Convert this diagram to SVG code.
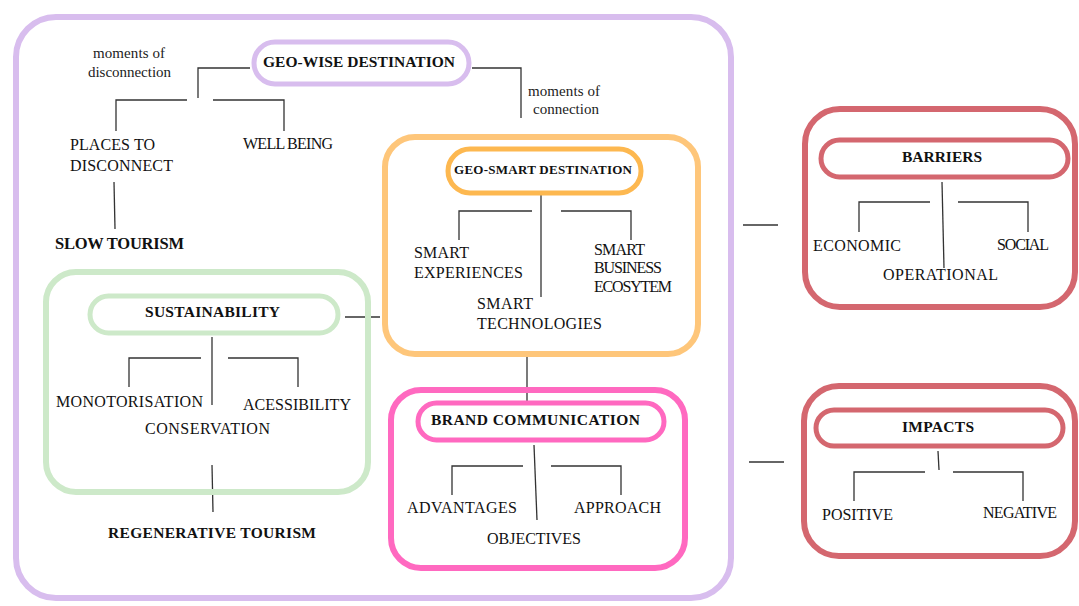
<svg xmlns="http://www.w3.org/2000/svg" width="1079" height="606" viewBox="0 0 1079 606">
<style>
text{font-family:"Liberation Serif","Times New Roman",serif;fill:#111;font-size:16px}
.b{font-weight:bold;font-size:15.5px}
.s{font-size:15px;fill:#222}
.box{fill:none;stroke-width:6}
.pill{fill:#fff;stroke-width:5}
.purple{stroke:#d8bdee}
.orange{stroke:#fec67a}
.orange2{stroke:#fdb850}
.green{stroke:#cde9c9}
.pink{stroke:#ff69c0}
.red{stroke:#d4676f}
#connectors path{fill:none;stroke:#333;stroke-width:1.3}
</style>
<rect width="1079" height="606" fill="#fff"/>
<g id="outer-frame"><rect class="box purple" x="16" y="17" width="715" height="581" rx="40" stroke-width="8"/></g>
<g id="connectors">
<path d="M250,68H198V98"/>
<path d="M116,131V100H187"/>
<path d="M213,100H284V131"/>
<path d="M114,182L115,229"/>
<path d="M472,68H521V118"/>
<path d="M541,180V297"/>
<path d="M459,240V211H532"/>
<path d="M561,211H631V240"/>
<path d="M345,317H380"/>
<path d="M212,337V405"/>
<path d="M129,387V358H201"/>
<path d="M228,358H298V387"/>
<path d="M212,465L213,512"/>
<path d="M527,354V402"/>
<path d="M534,445L537,520"/>
<path d="M452,495V466H523"/>
<path d="M551,466H621V495"/>
<path d="M743,225H778"/>
<path d="M942,182L944,268"/>
<path d="M859,232V202H930"/>
<path d="M958,202H1028V232"/>
<path d="M749,462H784"/>
<path d="M938,451L939,470"/>
<path d="M854,501V472H925"/>
<path d="M953,472H1023V501"/>
</g>
<g id="geo-wise">
<rect class="pill purple" x="254" y="42" width="215" height="42" rx="21"/>
<text class="b" x="263" y="67" textLength="192">GEO-WISE DESTINATION</text>
</g>
<g id="moments-disconnection">
<text class="s" x="93" y="58" textLength="72">moments of</text>
<text class="s" x="88" y="77" textLength="83">disconnection</text>
</g>
<g id="moments-connection">
<text class="s" x="528" y="96" textLength="72">moments of</text>
<text class="s" x="533" y="114" textLength="66">connection</text>
</g>
<g id="places">
<text x="70" y="150" textLength="85">PLACES TO</text>
<text x="70" y="171" textLength="103">DISCONNECT</text>
</g>
<g id="wellbeing"><text x="243" y="149" textLength="90">WELL BEING</text></g>
<g id="slow-tourism"><text class="b" x="55" y="249" style="font-size:16.5px" textLength="129">SLOW TOURISM</text></g>
<g id="geo-smart">
<rect class="box orange" x="385" y="137" width="313" height="217" rx="30"/>
<rect class="pill orange2" x="448" y="149" width="193" height="44" rx="22"/>
<text class="b" x="454" y="174" style="font-size:13px" textLength="178">GEO-SMART DESTINATION</text>
</g>
<g id="smart-exp">
<text x="414" y="258" textLength="55">SMART</text>
<text x="414" y="278" textLength="109">EXPERIENCES</text>
</g>
<g id="smart-biz">
<text x="594" y="255" textLength="51">SMART</text>
<text x="594" y="273" textLength="68">BUSINESS</text>
<text x="594" y="292" textLength="78">ECOSYTEM</text>
</g>
<g id="smart-tech">
<text x="477" y="309" textLength="56">SMART</text>
<text x="477" y="329" textLength="125">TECHNOLOGIES</text>
</g>
<g id="sustainability">
<rect class="box green" x="46" y="272" width="322" height="220" rx="30"/>
<rect class="pill green" x="90" y="296" width="248" height="37" rx="18.5"/>
<text class="b" x="145" y="317" textLength="135">SUSTAINABILITY</text>
</g>
<g id="monotorisation"><text x="56" y="407" textLength="147">MONOTORISATION</text></g>
<g id="acessibility"><text x="243" y="410" textLength="108">ACESSIBILITY</text></g>
<g id="conservation"><text x="145" y="434" textLength="125">CONSERVATION</text></g>
<g id="regenerative"><text class="b" x="108" y="538" textLength="208">REGENERATIVE TOURISM</text></g>
<g id="brand">
<rect class="box pink" x="391" y="390" width="294" height="178" rx="30"/>
<rect class="pill pink" x="418" y="403" width="246" height="37" rx="18.5"/>
<text class="b" x="431" y="425" textLength="209">BRAND COMMUNICATION</text>
</g>
<g id="advantages"><text x="407" y="513" textLength="110">ADVANTAGES</text></g>
<g id="approach"><text x="574" y="513" textLength="87">APPROACH</text></g>
<g id="objectives"><text x="487" y="544" textLength="94">OBJECTIVES</text></g>
<g id="barriers">
<rect class="box red" x="805" y="109" width="270" height="198" rx="35"/>
<rect class="pill red" x="821" y="140" width="247" height="37" rx="18.5"/>
<text class="b" x="902" y="162" textLength="80">BARRIERS</text>
</g>
<g id="economic"><text x="813" y="251" textLength="88">ECONOMIC</text></g>
<g id="social"><text x="997" y="250" textLength="52">SOCIAL</text></g>
<g id="operational"><text x="883" y="280" textLength="115">OPERATIONAL</text></g>
<g id="impacts">
<rect class="box red" x="804" y="386" width="271" height="170" rx="35"/>
<rect class="pill red" x="816" y="410" width="247" height="36" rx="18"/>
<text class="b" x="902" y="432" textLength="72">IMPACTS</text>
</g>
<g id="positive"><text x="822" y="520" textLength="71">POSITIVE</text></g>
<g id="negative"><text x="983" y="518" textLength="74">NEGATIVE</text></g>
</svg>
